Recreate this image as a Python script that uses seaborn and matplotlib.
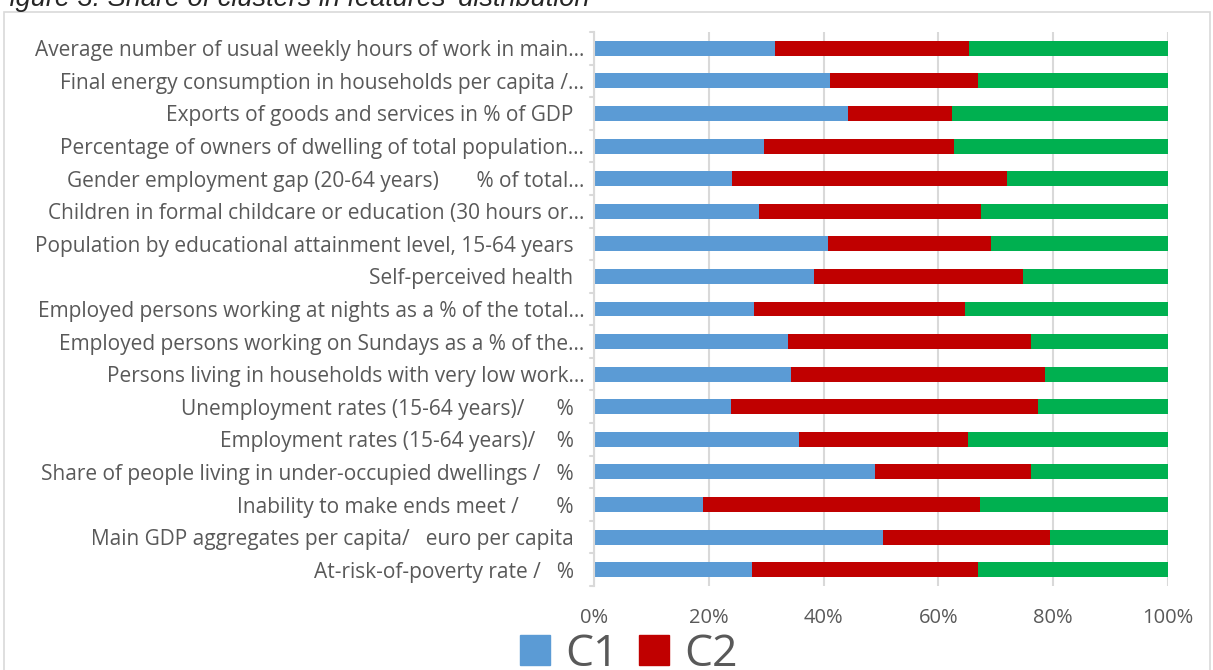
import matplotlib
matplotlib.use("Agg")
import matplotlib.pyplot as plt
from matplotlib.patches import Rectangle, Patch
from matplotlib.ticker import PercentFormatter
import seaborn as sns
import pandas as pd

features = [
    "Average number of usual weekly hours of work in main\u2026",
    "Final energy consumption in households per capita /\u2026",
    "Exports of goods and services in % of GDP  ",
    "Percentage of owners of dwelling of total population\u2026",
    "Gender employment gap (20-64 years)       % of total\u2026",
    "Children in formal childcare or education (30 hours or\u2026",
    "Population by educational attainment level, 15-64 years  ",
    "Self-perceived health  ",
    "Employed persons working at nights as a % of the total\u2026",
    "Employed persons working on Sundays as a % of the\u2026",
    "Persons living in households with very low work\u2026",
    "Unemployment rates (15-64 years)/      %  ",
    "Employment rates (15-64 years)/    %  ",
    "Share of people living in under-occupied dwellings /   %  ",
    "Inability to make ends meet /       %  ",
    "Main GDP aggregates per capita/   euro per capita  ",
    "At-risk-of-poverty rate /   %  ",
]
c1 = [31.5, 41.2, 44.2, 29.6, 24.0, 28.7, 40.8, 38.4, 27.8, 33.8, 34.4, 23.9,
      35.7, 49.0, 19.0, 50.3, 27.6]
c2 = [33.9, 25.7, 18.1, 33.1, 47.9, 38.8, 28.3, 36.4, 36.9, 42.4, 44.1, 53.4,
      29.5, 27.2, 48.2, 29.2, 39.3]
c3 = [100 - a - b for a, b in zip(c1, c2)]

colors = {"C1": "#5b9bd5", "C2": "#c00000", "C3": "#00b050"}

df = pd.DataFrame({"feature": features, "C1": c1, "C2": c2, "C3": c3})
df["c12"] = df["C1"] + df["C2"]
df["c123"] = df["c12"] + df["C3"]

sns.set_style("white")
plt.rcParams["font.family"] = ["Open Sans", "DejaVu Sans"]

fig = plt.figure(figsize=(12.13, 6.70), dpi=100)
ax = fig.add_axes([594 / 1213, 1 - 586 / 670, 574 / 1213, (586 - 32) / 670])

# stacked bars: draw cumulative totals back to front
for col, name in [("c123", "C3"), ("c12", "C2"), ("C1", "C1")]:
    sns.barplot(data=df, x=col, y="feature", color=colors[name], orient="h",
                width=0.46, saturation=1, ax=ax, linewidth=0)

n = len(features)
ax.set_xticks([0, 20, 40, 60, 80, 100])
ax.xaxis.set_major_formatter(PercentFormatter(decimals=0))
ax.set_xlabel("")
ax.set_ylabel("")
ax.grid(axis="x", color="#d9d9d9", linewidth=1.5)
ax.set_axisbelow(True)
for s in ["top", "right", "bottom"]:
    ax.spines[s].set_visible(False)
ax.spines["left"].set_color("#d9d9d9")
ax.spines["left"].set_linewidth(1.5)
ax.tick_params(axis="y", length=0, labelsize=15, labelcolor="#595959", pad=7)
ax.tick_params(axis="x", length=0, labelsize=14.5, labelcolor="#595959", pad=16)

# little tick marks between categories on the left axis
for yb in [i - 0.5 for i in range(n + 1)]:
    ax.plot([-0.7, 0], [yb, yb], color="#d9d9d9", lw=1.5, clip_on=False)
ax.set_ylim(n - 0.5, -0.5)
ax.set_xlim(0, 100)

# outer chart border
fig.patches.append(Rectangle((4 / 1213, -0.1), 1206 / 1213, 1.1 - 12 / 670,
                             transform=fig.transFigure, fill=False,
                             edgecolor="#d9d9d9", linewidth=1.2))

fig.text(-0.006, 1 - 6 / 670, "Figure 3: Share of clusters in features' distribution",
         fontsize=19.5, fontstyle="italic", va="baseline", ha="left",
         family=["Liberation Sans", "DejaVu Sans"])

handles = [Patch(color=colors["C1"], label="C1"),
           Patch(color=colors["C2"], label="C2")]
fig.legend(handles=handles, loc="upper left", bbox_to_anchor=(520 / 1213, 1 - 632 / 670),
           ncol=2, frameon=False, fontsize=32, labelcolor="#595959",
           handlelength=0.68, handleheight=0.68, handletextpad=0.34,
           columnspacing=0.45, borderaxespad=0, borderpad=0)

fig.savefig("out.png", dpi=100)
